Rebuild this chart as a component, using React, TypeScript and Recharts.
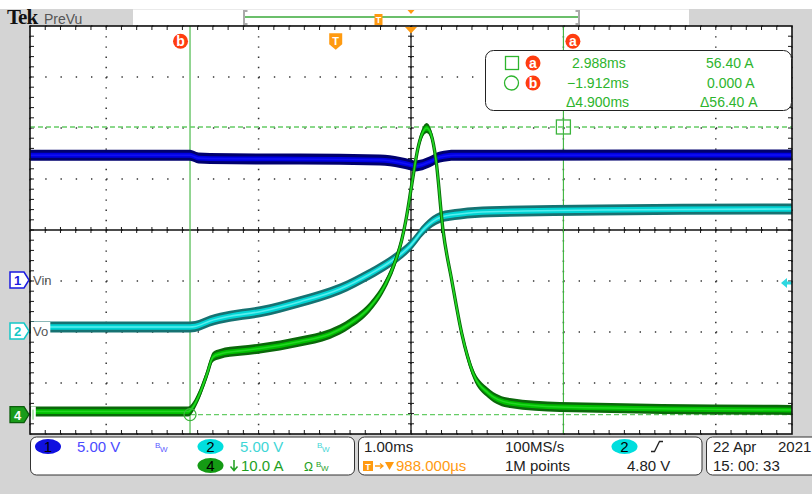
import React from 'react';
import {
  ComposedChart,
  XAxis,
  YAxis,
  CartesianGrid,
  Area,
  Line,
  ReferenceLine,
  ReferenceDot,
} from 'recharts';

// ---------------- Acquisition settings ----------------
const H_DIVS = 10;
const V_DIVS = 8;
const MS_PER_DIV = 1.0; // 1.00 ms/div
const CENTER_MS = 0.988; // horizontal delay: trigger -> screen centre (988.000 µs)
const X_MIN = CENTER_MS - (H_DIVS / 2) * MS_PER_DIV;
const X_MAX = CENTER_MS + (H_DIVS / 2) * MS_PER_DIV;
const Y_MIN = -V_DIVS / 2;
const Y_MAX = V_DIVS / 2;

// ---------------- Channel settings ----------------
const CH1_VOLTS_PER_DIV = 5;
const CH1_POSITION = -1;
const CH2_VOLTS_PER_DIV = 5;
const CH2_POSITION = -2;
const CH4_AMPS_PER_DIV = 10;
const CH4_POSITION = -3.62;
const TRIGGER_LEVEL_V = 4.8; // rising edge on CH2

// ---------------- Waveforms (time in ms from trigger) ----------------
// CH1: Vin
const vinTime = [-4.012, -1.912, -1.8, -1.65, -0.469, 0.581, 0.844, 0.975, 1.04, 1.106, 1.237, 1.369, 1.565, 5.988];
const vinVolts = [12.33, 12.33, 12.05, 12.0, 11.95, 11.86, 11.62, 11.4, 11.27, 11.35, 11.7, 12.15, 12.33, 12.35];

// CH2: Vo
const voTime = [-4.012, -1.912, -1.846, -1.65, -1.387, -0.994, -0.469, 0.056, 0.45, 0.712, 0.975, 1.172, 1.369, 1.631, 2.025, 3.468, 5.988];
const voVolts = [0.49, 0.49, 0.54, 1.08, 1.55, 1.99, 2.97, 4.22, 5.69, 6.86, 8.43, 10.2, 11.23, 11.57, 11.79, 11.96, 12.06];

// CH4: inductor current
const iTime = [
  -4.012, -1.938, -1.873, -1.781, -1.689, -1.611, -1.519, -1.256, -0.994, -0.469, -0.075, 0.187, 0.45, 0.647,
  0.778, 0.866, 0.922, 0.997, 1.08, 1.132, 1.194, 1.25, 1.316, 1.408, 1.522, 1.653, 1.802, 2.0, 2.287, 2.943, 5.988,
];
const iAmps = [
  0.6, 0.6, 1.5, 4.24, 7.96, 11.3, 11.9, 12.5, 12.96, 14.33, 15.8, 17.86, 21.1, 25.4,
  29.9, 34.2, 38.2, 45.0, 52.3, 55.0, 56.2, 55.0, 49.9, 36.2, 26.4, 16.0, 8.16, 4.24, 2.27, 1.49, 0.9,
];

// ---------------- Cursors ----------------
const cursorNames = ['a', 'b'];
const cursorTimeMs = [2.988, -1.912];
const cursorAmps = [56.4, 0.0];
const readoutTimes = ['2.988ms', '\u22121.912ms', '\u03944.900ms'];
const readoutAmps = ['56.40 A', '0.000 A', '\u039456.40 A'];

// ---------------- Status bar text ----------------
const ch1Scale = '5.00 V';
const ch2Scale = '5.00 V';
const ch4Scale = '10.0 A';
const timebase = '1.00ms';
const delayText = '988.000\u00b5s';
const sampleRate = '100MS/s';
const recordLength = '1M points';
const triggerLevelText = '4.80 V';
const dateText = ['22 Apr', '2021'];
const timeText = '15: 00: 33';

// ---------------- Layout ----------------
const W = 812;
const H = 494;
const PLOT_L = 30;
const PLOT_T = 26;
const PLOT_R = 792;
const PLOT_B = 434;
const PX_PER_MS = (PLOT_R - PLOT_L) / (H_DIVS * MS_PER_DIV);
const PX_PER_DIV_Y = (PLOT_B - PLOT_T) / V_DIVS;
const MARKER_ROW_DIV = 3.7; // row of cursor/trigger badges under the top edge

const FONT = '"Liberation Sans", Arial, sans-serif';
const GRAY_BG = '#d4d4d4';
const GREEN_TXT = '#2db42d';
const CURSOR_GREEN = '#3cb43c';
const RED_BADGE = '#ff3d10';
const ORANGE = '#ff9a10';

const toDiv = (value: number, perDiv: number, position: number) => position + value / perDiv;

type Row = { t: number; mid: number; band: [number, number]; core: [number, number] };

function buildTrace(times: number[], values: number[], perDiv: number, position: number, outerPx: number, innerPx: number): Row[] {
  const outer = outerPx / PX_PER_DIV_Y;
  const inner = innerPx / PX_PER_DIV_Y;
  return times.map((t, i) => {
    const d = toDiv(values[i], perDiv, position);
    return { t, mid: d, band: [d - outer, d + outer], core: [d - inner, d + inner] };
  });
}

type TraceColors = { edge: string; core: string; hi: string };

function traceSeries(id: string, rows: Row[], c: TraceColors, z: number) {
  return [
    <Area key={id + 'o'} data={rows} dataKey="band" type="monotone" stroke="none" fill={c.edge} fillOpacity={1}
      isAnimationActive={false} activeDot={false} dot={false} zIndex={z} />,
    <Line key={id + 'e'} data={rows} dataKey="mid" type="monotone" stroke={c.edge} strokeWidth={3.4}
      isAnimationActive={false} activeDot={false} dot={false} zIndex={z + 1} />,
    <Area key={id + 'i'} data={rows} dataKey="core" type="monotone" stroke="none" fill={c.core} fillOpacity={1}
      isAnimationActive={false} activeDot={false} dot={false} zIndex={z + 2} />,
    <Line key={id + 'c'} data={rows} dataKey="mid" type="monotone" stroke={c.hi} strokeWidth={1.6}
      isAnimationActive={false} activeDot={false} dot={false} zIndex={z + 3} />,
  ];
}

// graticule positions
const majorX = Array.from({ length: H_DIVS - 1 }, (_, k) => X_MIN + (k + 1) * MS_PER_DIV);
const majorY = Array.from({ length: V_DIVS - 1 }, (_, k) => Y_MIN + (k + 1));
const minorX = Array.from({ length: H_DIVS * 5 - 1 }, (_, k) => X_MIN + ((k + 1) * MS_PER_DIV) / 5);
const minorY = Array.from({ length: V_DIVS * 5 - 1 }, (_, k) => Y_MIN + (k + 1) / 5);

function graticuleTicks() {
  const tx = 4 / PX_PER_MS;
  const ty = 4 / PX_PER_DIV_Y;
  const cx = 3 / PX_PER_MS;
  const cy = 3 / PX_PER_DIV_Y;
  const common = { stroke: '#1a1a1a', strokeWidth: 1, ifOverflow: 'visible' as const, zIndex: 50 };
  const out: React.ReactElement[] = [];
  minorX.forEach((x, i) => {
    out.push(<ReferenceLine key={'tt' + i} segment={[{ x, y: Y_MAX }, { x, y: Y_MAX - ty }]} {...common} />);
    out.push(<ReferenceLine key={'tb' + i} segment={[{ x, y: Y_MIN }, { x, y: Y_MIN + ty }]} {...common} />);
    out.push(<ReferenceLine key={'tc' + i} segment={[{ x, y: -cy }, { x, y: cy }]} {...common} />);
  });
  minorY.forEach((y, i) => {
    out.push(<ReferenceLine key={'tl' + i} segment={[{ x: X_MIN, y }, { x: X_MIN + tx, y }]} {...common} />);
    out.push(<ReferenceLine key={'tr' + i} segment={[{ x: X_MAX - tx, y }, { x: X_MAX, y }]} {...common} />);
    out.push(<ReferenceLine key={'tm' + i} segment={[{ x: CENTER_MS - cx, y }, { x: CENTER_MS + cx, y }]} {...common} />);
  });
  return out;
}

// ---------------- Marker shapes ----------------
function Badge({ cx, cy, letter }: { cx: number; cy: number; letter: string }) {
  return (
    <g>
      <circle cx={cx} cy={cy} r={7.5} fill={RED_BADGE} />
      <text x={cx} y={cy + 4.8} textAnchor="middle" fontSize={14} fontWeight="bold" fill="#fff" fontFamily={FONT}>
        {letter}
      </text>
    </g>
  );
}

const badgeShape = (letter: string, dx: number) => (p: any) => <Badge cx={p.cx + dx} cy={p.cy} letter={letter} />;

const triggerShape = (p: any) => {
  const { cx, cy } = p;
  return (
    <g>
      <path d={`M${cx - 6.5},${cy - 8} H${cx + 6.5} V${cy + 3} L${cx},${cy + 8.5} L${cx - 6.5},${cy + 3} Z`} fill={ORANGE} />
      <text x={cx} y={cy + 3.5} textAnchor="middle" fontSize={11} fontWeight="bold" fill="#fff" fontFamily={FONT}>T</text>
    </g>
  );
};

const centreShape = (p: any) => (
  <polygon points={`${p.cx - 6},${p.cy + 1} ${p.cx + 6},${p.cy + 1} ${p.cx},${p.cy + 7.5}`} fill={ORANGE} />
);

const flagPath = (cx: number, cy: number) =>
  `M${cx - 20},${cy - 8} H${cx - 6} L${cx - 1},${cy} L${cx - 6},${cy + 8} H${cx - 20} Z`;

const flagShape = (num: string, stroke: string, fill: string, textFill: string, label: string, labelBg: boolean) => (p: any) => {
  const { cx, cy } = p;
  const c = cy - 1;
  return (
    <g>
      {labelBg && <rect x={cx + 0.8} y={c - 9} width={19.5} height={17} fill="#fff" />}
      <path d={flagPath(cx, c)} fill={fill} stroke={stroke} strokeWidth={1.5} />
      <text x={cx - 12.5} y={c + 5} textAnchor="middle" fontSize={13} fontWeight="bold" fill={textFill} fontFamily={FONT}>
        {num}
      </text>
      {label && (
        <text x={cx + 3} y={c + 5} fontSize={13} fill="#555" fontFamily={FONT}>
          {label}
        </text>
      )}
    </g>
  );
};

const ch4FlagShape = (p: any) => {
  const { cx, cy } = p;
  return (
    <g>
      <rect x={cx + 0.8} y={cy - 8} width={5} height={16} fill="#fff" />
      <line x1={cx + 3} y1={cy - 5} x2={cx + 3} y2={cy + 5} stroke="#6c6" strokeWidth={1} />
      <path d={flagPath(cx, cy)} fill="#1a9c1a" stroke="#0b5e0b" strokeWidth={1.3} />
      <text x={cx - 12.5} y={cy + 5} textAnchor="middle" fontSize={13} fontWeight="bold" fill="#fff" fontFamily={FONT}>4</text>
    </g>
  );
};

const trigLevelShape = (p: any) => {
  const { cx, cy } = p;
  return (
    <polygon
      points={`${cx - 11},${cy} ${cx - 5},${cy - 5} ${cx - 5},${cy - 1.5} ${cx},${cy - 1.5} ${cx},${cy + 1.5} ${cx - 5},${cy + 1.5} ${cx - 5},${cy + 5}`}
      fill="#2fd8e0"
    />
  );
};

const squareShape = (p: any) => (
  <rect x={p.cx - 7} y={p.cy - 7} width={14} height={14} fill="none" stroke={CURSOR_GREEN} strokeWidth={1.3} />
);
const circleShape = (p: any) => <circle cx={p.cx} cy={p.cy} r={6} fill="none" stroke={CURSOR_GREEN} strokeWidth={1.3} />;

// ---------------- Static screen furniture ----------------
function Pill({ cx, cy, fill, label }: { cx: number; cy: number; fill: string; label: string }) {
  return (
    <g>
      <ellipse cx={cx} cy={cy} rx={13} ry={7.5} fill={fill} />
      <text x={cx} y={cy + 5.2} textAnchor="middle" fontSize={15} fill="#000" fontFamily={FONT}>{label}</text>
    </g>
  );
}

function Bw({ x, y, fill }: { x: number; y: number; fill: string }) {
  return (
    <g fontFamily={FONT} fill={fill}>
      <text x={x} y={y} fontSize={8}>B</text>
      <text x={x + 5} y={y + 4} fontSize={8}>W</text>
    </g>
  );
}

function TopBar() {
  return (
    <svg width={W} height={30} style={{ position: 'absolute', left: 0, top: 0 }}>
      <rect x={133} y={9.5} width={556} height={15.5} fill="#fff" />
      <text x={7} y={24} fontFamily='"Liberation Serif", serif' fontWeight="bold" fontSize={21} fill="#111" letterSpacing={-1}>Tek</text>
      <text x={44} y={24} fontFamily={FONT} fontSize={14} fill="#555">PreVu</text>
      <path d="M247.5,11 H244 V24 H247.5" fill="none" stroke="#aaa" strokeWidth={2} />
      <path d="M575.5,11 H579 V24 H575.5" fill="none" stroke="#aaa" strokeWidth={2} />
      <line x1={245} y1={17} x2={578} y2={17} stroke="#3aaa3a" strokeWidth={1.5} />
      <rect x={374.5} y={14} width={8} height={11} fill={ORANGE} />
      <text x={378.5} y={23} textAnchor="middle" fontFamily={FONT} fontSize={9} fontWeight="bold" fill="#fff">T</text>
      <polygon points="407.5,10 414.5,10 411,14" fill={ORANGE} />
    </svg>
  );
}

function Overlay() {
  const rowY = [68, 87.5, 106.5];
  return (
    <svg width={W} height={H} style={{ position: 'absolute', left: 0, top: 0, pointerEvents: 'none' }}>
      {/* plot frame */}
      <rect x={PLOT_L} y={PLOT_T} width={PLOT_R - PLOT_L} height={PLOT_B - PLOT_T} fill="none" stroke="#111" strokeWidth={1.6} />

      {/* cursor readout */}
      <rect x={485.5} y={50.5} width={306} height={60} rx={8} fill="#fff" stroke="#222" strokeWidth={1} />
      <rect x={505.5} y={56.5} width={13} height={13} fill="none" stroke={GREEN_TXT} strokeWidth={1.3} />
      <Badge cx={533} cy={63} letter={cursorNames[0]} />
      <circle cx={511.5} cy={83} r={7} fill="none" stroke={GREEN_TXT} strokeWidth={1.3} />
      <Badge cx={533} cy={83} letter={cursorNames[1]} />
      <g fontFamily={FONT} fontSize={14} fill={GREEN_TXT}>
        <text x={572} y={rowY[0]}>{readoutTimes[0]}</text>
        <text x={567} y={rowY[1]}>{readoutTimes[1]}</text>
        <text x={566} y={rowY[2]}>{readoutTimes[2]}</text>
        <text x={706} y={rowY[0]}>{readoutAmps[0]}</text>
        <text x={707} y={rowY[1]}>{readoutAmps[1]}</text>
        <text x={700} y={rowY[2]}>{readoutAmps[2]}</text>
      </g>

      {/* vertical channel panel */}
      <rect x={30.5} y={437} width={324} height={38} rx={6} fill="#fff" stroke="#333" />
      <Pill cx={48} cy={446.5} fill="#1010e0" label="1" />
      <text x={77} y={452} fontFamily={FONT} fontSize={15} fill="#4b4bff">{ch1Scale}</text>
      <Bw x={155} y={448} fill="#5a5aff" />
      <Pill cx={210.5} cy={446.5} fill="#00dede" label="2" />
      <text x={240} y={452} fontFamily={FONT} fontSize={15} fill="#3fd6d6">{ch2Scale}</text>
      <Bw x={317} y={448} fill="#3fd6d6" />
      <Pill cx={210.5} cy={465.5} fill="#149a14" label="4" />
      <path d="M234,460 V470 M230.5,466.5 L234,470.5 L237.5,466.5" fill="none" stroke="#1ea01e" strokeWidth={1.5} />
      <text x={241} y={471} fontFamily={FONT} fontSize={15} fill="#1ea01e">{ch4Scale}</text>
      <text x={304} y={471} fontFamily={FONT} fontSize={12} fill="#1ea01e">{'\u03a9'}</text>
      <Bw x={316} y={467} fill="#1ea01e" />

      {/* horizontal / acquisition / trigger panel */}
      <rect x={358.5} y={437} width={343.5} height={38} rx={6} fill="#fff" stroke="#333" />
      <g fontFamily={FONT} fontSize={15} fill="#222">
        <text x={364} y={452}>{timebase}</text>
        <text x={505} y={452}>{sampleRate}</text>
        <text x={505} y={470.5}>{recordLength}</text>
        <text x={627} y={470.5}>{triggerLevelText}</text>
      </g>
      <rect x={363} y={461} width={10} height={10} fill={ORANGE} />
      <text x={368} y={469.5} textAnchor="middle" fontFamily={FONT} fontSize={9} fontWeight="bold" fill="#fff">T</text>
      <path d="M375,466 H383 M380,463.5 L383,466 L380,468.5" fill="none" stroke={ORANGE} strokeWidth={1.3} />
      <polygon points="385,462 394,462 389.5,470" fill={ORANGE} />
      <text x={396} y={470.5} fontFamily={FONT} fontSize={15} fill={ORANGE}>{delayText}</text>
      <Pill cx={624.5} cy={446.5} fill="#00dede" label="2" />
      <path d="M651,451.5 H654.5 L659.5,441.5 H663" fill="none" stroke="#222" strokeWidth={1.3} />

      {/* date panel */}
      <rect x={706.5} y={437} width={130} height={38} rx={6} fill="#fff" stroke="#333" />
      <g fontFamily={FONT} fontSize={15} fill="#222">
        <text x={713} y={452}>{dateText[0]}</text>
        <text x={778} y={452}>{dateText[1]}</text>
        <text x={713} y={470.5}>{timeText}</text>
      </g>
    </svg>
  );
}

export default function App() {
  const ch1Rows = buildTrace(vinTime, vinVolts, CH1_VOLTS_PER_DIV, CH1_POSITION, 5.5, 2.4);
  const ch2Rows = buildTrace(voTime, voVolts, CH2_VOLTS_PER_DIV, CH2_POSITION, 5.5, 2.8);
  const ch4Rows = buildTrace(iTime, iAmps, CH4_AMPS_PER_DIV, CH4_POSITION, 5.0, 2.4);

  return (
    <div style={{ position: 'absolute', left: 0, top: 0, width: W, height: H, background: '#fff', overflow: 'hidden', fontFamily: FONT }}>
      <div style={{ position: 'absolute', left: 0, top: 9, width: W, height: H - 9, background: GRAY_BG }} />
      <TopBar />
      <div style={{ position: 'absolute', left: PLOT_L, top: PLOT_T, width: PLOT_R - PLOT_L, height: PLOT_B - PLOT_T, background: '#fff' }} />
      <div style={{ position: 'absolute', left: 0, top: 0 }}>
        <ComposedChart
          width={W}
          height={H}
          margin={{ top: PLOT_T, left: PLOT_L, right: W - PLOT_R, bottom: H - PLOT_B }}
        >
          <XAxis type="number" dataKey="t" domain={[X_MIN, X_MAX]} ticks={majorX} hide allowDataOverflow />
          <YAxis type="number" domain={[Y_MIN, Y_MAX]} ticks={majorY} hide allowDataOverflow />
          <CartesianGrid vertical={false} stroke="#333" strokeWidth={1.5} strokeDasharray={`1.4 ${PX_PER_MS / 5 - 1.4}`} />
          <CartesianGrid horizontal={false} stroke="#333" strokeWidth={1.5} strokeDasharray={`1.4 ${PX_PER_DIV_Y / 5 - 1.4}`} />

          {graticuleTicks()}
          <ReferenceLine x={CENTER_MS} stroke="#111" strokeWidth={1.3} zIndex={55} />
          <ReferenceLine y={0} stroke="#111" strokeWidth={1.3} zIndex={55} />

          {/* cursors */}
          {cursorTimeMs.map((t, i) => (
            <ReferenceLine key={'cv' + i} x={t} stroke={CURSOR_GREEN} strokeWidth={1.1} zIndex={60} />
          ))}
          {cursorAmps.map((a, i) => (
            <ReferenceLine key={'ch' + i} y={toDiv(a, CH4_AMPS_PER_DIV, CH4_POSITION)} stroke="#66cc66"
              strokeWidth={1.3} strokeDasharray="5 3" zIndex={60} />
          ))}

          {traceSeries('ch1', ch1Rows, { edge: '#00006e', core: '#0000e4', hi: '#1010f4' }, 100)}
          {traceSeries('ch2', ch2Rows, { edge: '#167272', core: '#00d4d4', hi: '#58eeee' }, 110)}
          {traceSeries('ch4', ch4Rows, { edge: '#0a680a', core: '#00bf00', hi: '#22d622' }, 120)}

          <ReferenceDot x={cursorTimeMs[0]} y={toDiv(cursorAmps[0], CH4_AMPS_PER_DIV, CH4_POSITION)} ifOverflow="visible" shape={squareShape} zIndex={600} />
          <ReferenceDot x={cursorTimeMs[1]} y={toDiv(cursorAmps[1], CH4_AMPS_PER_DIV, CH4_POSITION)} ifOverflow="visible" shape={circleShape} zIndex={600} />
          <ReferenceDot x={cursorTimeMs[0]} y={MARKER_ROW_DIV} ifOverflow="visible" shape={badgeShape(cursorNames[0], 9.5)} zIndex={600} />
          <ReferenceDot x={cursorTimeMs[1]} y={MARKER_ROW_DIV} ifOverflow="visible" shape={badgeShape(cursorNames[1], -9.5)} zIndex={600} />
          <ReferenceDot x={0} y={MARKER_ROW_DIV} ifOverflow="visible" shape={triggerShape} zIndex={600} />
          <ReferenceDot x={CENTER_MS} y={Y_MAX} ifOverflow="visible" shape={centreShape} zIndex={600} />
          <ReferenceDot x={X_MIN} y={CH1_POSITION} ifOverflow="visible" shape={flagShape('1', '#1a1ae0', '#fff', '#1a1ae0', 'Vin', false)} zIndex={600} />
          <ReferenceDot x={X_MIN} y={CH2_POSITION} ifOverflow="visible" shape={flagShape('2', '#14c8c8', '#fff', '#14c8c8', 'Vo', true)} zIndex={600} />
          <ReferenceDot x={X_MIN} y={CH4_POSITION} ifOverflow="visible" shape={ch4FlagShape} zIndex={600} />
          <ReferenceDot x={X_MAX} y={toDiv(TRIGGER_LEVEL_V, CH2_VOLTS_PER_DIV, CH2_POSITION)} ifOverflow="visible" shape={trigLevelShape} zIndex={600} />
        </ComposedChart>
      </div>
      <Overlay />
    </div>
  );
}
